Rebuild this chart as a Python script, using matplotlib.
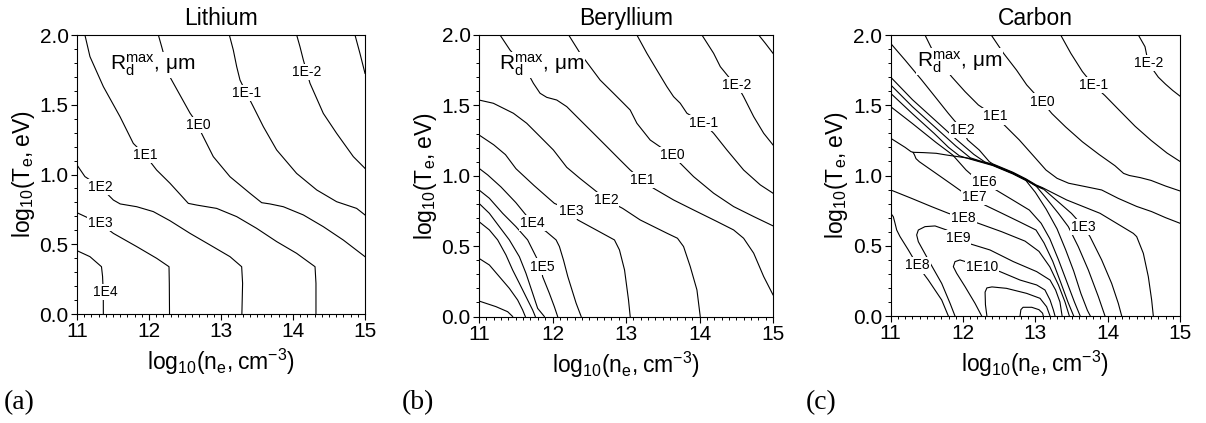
import matplotlib.pyplot as plt
from matplotlib.ticker import MultipleLocator, FormatStrFormatter

plt.rcParams['font.family'] = ['Liberation Sans', 'DejaVu Sans']
plt.rcParams['mathtext.default'] = 'regular'

# ---------------- Lithium (a) ----------------
li_tr_x = [14.861, 14.93, 15.0]
li_tr_y = [2.0, 1.868, 1.725]
li_m2_x = [14.051, 14.097, 14.144, 14.19, 14.236, 14.421, 14.606, 14.838, 15.0]
li_m2_y = [2.0, 1.916, 1.82, 1.737, 1.654, 1.438, 1.295, 1.128, 1.044]
li_m1_x = [13.116, 13.171, 13.218, 13.264, 13.356, 13.449, 13.588, 13.773, 14.05, 14.33, 14.606, 14.745, 14.884, 15.0]
li_m1_y = [2.0, 1.892, 1.773, 1.677, 1.58, 1.486, 1.343, 1.176, 1.008, 0.889, 0.805, 0.781, 0.757, 0.710]
li_p0_x = [12.13, 12.176, 12.29, 12.43, 12.57, 12.685, 12.73, 12.893, 13.125, 13.403, 13.565, 13.68, 13.866, 14.144, 14.421, 14.699, 15.0]
li_p0_y = [2.0, 1.916, 1.70, 1.57, 1.44, 1.355, 1.295, 1.128, 0.984, 0.865, 0.798, 0.789, 0.769, 0.710, 0.626, 0.530, 0.411]
li_p1_x = [11.11, 11.18, 11.366, 11.597, 11.782, 11.944, 12.106, 12.292, 12.546, 12.662, 12.94, 13.218, 13.495, 13.773, 14.05, 14.306, 14.319, 14.319]
li_p1_y = [2.0, 1.845, 1.63, 1.415, 1.223, 1.14, 1.032, 0.937, 0.793, 0.781, 0.757, 0.698, 0.614, 0.519, 0.435, 0.339, 0.22, 0.0]
li_p2_x = [11.0, 11.11, 11.32, 11.505, 11.6, 11.83, 12.06, 12.29, 12.57, 12.847, 13.125, 13.287, 13.30, 13.29]
li_p2_y = [1.068, 0.985, 0.913, 0.817, 0.789, 0.769, 0.734, 0.669, 0.578, 0.495, 0.411, 0.339, 0.22, 0.0]
li_p3_x = [11.0, 11.15, 11.32, 11.505, 11.83, 12.107, 12.278, 12.282, 12.285]
li_p3_y = [0.726, 0.69, 0.65, 0.578, 0.483, 0.399, 0.339, 0.22, 0.0]
li_p4_x = [11.0, 11.18, 11.34, 11.355, 11.365, 11.366]
li_p4_y = [0.454, 0.411, 0.339, 0.27, 0.15, 0.0]

li_lab = ['1E-2', '1E-1', '1E0', '1E1', '1E2', '1E3', '1E4']
li_lab_x = [14.19, 13.356, 12.685, 11.944, 11.319, 11.319, 11.389]
li_lab_y = [1.737, 1.582, 1.355, 1.140, 0.913, 0.650, 0.160]

# ---------------- Beryllium (b) ----------------
be_tr_x = [14.805, 14.896, 15.0]
be_tr_y = [2.0, 1.941, 1.870]
be_m2_x = [14.033, 14.192, 14.283, 14.40, 14.51, 14.6, 14.737, 14.873, 15.0]
be_m2_y = [2.0, 1.870, 1.775, 1.70, 1.645, 1.562, 1.420, 1.302, 1.219]
be_m1_x = [13.148, 13.284, 13.42, 13.556, 13.647, 13.738, 13.829, 14.056, 14.192, 14.373, 14.6, 14.827, 15.0]
be_m1_y = [2.0, 1.870, 1.751, 1.633, 1.562, 1.515, 1.444, 1.373, 1.302, 1.183, 1.041, 0.935, 0.876]
be_p0_x = [12.22, 12.376, 12.512, 12.648, 12.83, 12.966, 13.057, 13.148, 13.329, 13.624, 13.738, 13.919, 14.192, 14.464, 14.737, 15.0]
be_p0_y = [2.0, 1.870, 1.775, 1.680, 1.586, 1.515, 1.467, 1.373, 1.254, 1.148, 1.089, 0.994, 0.876, 0.781, 0.710, 0.644]
be_p1_x = [11.286, 11.422, 11.604, 11.74, 11.831, 11.922, 12.058, 12.194, 12.376, 12.557, 12.739, 12.92, 13.057, 13.216, 13.375, 13.647, 13.919, 14.237, 14.464, 14.6, 14.737, 14.873, 15.0]
be_p1_y = [2.0, 1.893, 1.787, 1.657, 1.586, 1.557, 1.538, 1.491, 1.396, 1.302, 1.207, 1.112, 1.041, 0.970, 0.911, 0.828, 0.757, 0.675, 0.615, 0.556, 0.450, 0.284, 0.154]
be_p2_x = [11.0, 11.195, 11.468, 11.649, 11.831, 12.012, 12.194, 12.376, 12.557, 12.739, 12.955, 13.193, 13.556, 13.70, 13.783, 13.874, 13.965, 14.01]
be_p2_y = [1.538, 1.515, 1.444, 1.373, 1.278, 1.183, 1.06, 0.98, 0.905, 0.828, 0.768, 0.686, 0.592, 0.556, 0.497, 0.355, 0.189, 0.0]
be_p3_x = [11.0, 11.2, 11.36, 11.503, 11.75, 12.025, 12.252, 12.344, 12.594, 12.843, 12.911, 12.98, 13.034, 13.057]
be_p3_y = [1.29, 1.22, 1.15, 1.05, 0.93, 0.804, 0.752, 0.686, 0.615, 0.544, 0.473, 0.331, 0.118, 0.0]
be_p4_x = [11.0, 11.118, 11.30, 11.50, 11.639, 11.731, 11.913, 12.049, 12.094, 12.15, 12.208, 12.321, 12.39]
be_p4_y = [1.053, 1.006, 0.92, 0.81, 0.721, 0.663, 0.604, 0.544, 0.497, 0.40, 0.284, 0.095, 0.0]
be_p5_x = [11.0, 11.141, 11.322, 11.503, 11.662, 11.753, 11.844, 11.866, 11.957, 12.025, 12.07]
be_p5_y = [0.899, 0.840, 0.733, 0.638, 0.544, 0.449, 0.354, 0.283, 0.165, 0.070, 0.0]
be_p6_x = [11.0, 11.141, 11.277, 11.413, 11.549, 11.639, 11.730, 11.798, 11.889]
be_p6_y = [0.804, 0.733, 0.638, 0.544, 0.425, 0.307, 0.165, 0.058, 0.0]
be_p7_x = [11.0, 11.141, 11.254, 11.367, 11.458, 11.549, 11.662, 11.730, 11.766]
be_p7_y = [0.674, 0.615, 0.544, 0.437, 0.330, 0.236, 0.117, 0.046, 0.0]
be_p8_x = [11.0, 11.141, 11.277, 11.413, 11.526, 11.594, 11.630]
be_p8_y = [0.413, 0.366, 0.283, 0.200, 0.117, 0.046, 0.0]
be_p9_x = [11.0, 11.231, 11.39, 11.458]
be_p9_y = [0.110, 0.070, 0.034, 0.0]

be_lab = ['1E-2', '1E-1', '1E0', '1E1', '1E2', '1E3', '1E4', '1E5']
be_lab_x = [14.51, 14.056, 13.624, 13.22, 12.728, 12.25, 11.73, 11.858]
be_lab_y = [1.645, 1.373, 1.148, 0.970, 0.828, 0.753, 0.663, 0.355]

# ---------------- Carbon (c) ----------------
c_m2_x = [14.424, 14.516, 14.562, 14.70, 14.80, 14.90, 15.0]
c_m2_y = [2.0, 1.917, 1.80, 1.70, 1.65, 1.605, 1.565]
c_m1_x = [13.35, 13.49, 13.65, 13.80, 13.96, 14.15, 14.38, 14.6, 14.82, 15.0]
c_m1_y = [2.0, 1.87, 1.74, 1.645, 1.57, 1.47, 1.35, 1.25, 1.16, 1.10]
c_p0_x = [12.39, 12.56, 12.74, 12.88, 13.09, 13.23, 13.42, 13.65, 13.88, 14.1, 14.22, 14.3, 14.45, 14.6, 14.8, 15.0]
c_p0_y = [2.0, 1.87, 1.75, 1.645, 1.526, 1.44, 1.345, 1.24, 1.15, 1.07, 1.015, 1.0, 0.985, 0.965, 0.925, 0.89]
c_p1_x = [11.474, 11.56, 11.66, 11.843, 12.028, 12.212, 12.45, 12.571, 12.778, 12.963, 13.147, 13.3, 13.46, 13.7, 13.917, 14.147, 14.4, 14.608, 14.8, 15.0]
c_p1_y = [2.0, 1.91, 1.822, 1.703, 1.597, 1.502, 1.42, 1.359, 1.253, 1.146, 1.039, 0.98, 0.945, 0.92, 0.897, 0.837, 0.78, 0.743, 0.70, 0.66]
c_p2_x = [11.0, 11.198, 11.428, 11.613, 11.797, 11.99, 12.064, 12.225, 12.364, 12.41, 12.69, 12.87, 13.01, 13.1, 13.433, 13.894, 14.355, 14.401, 14.493, 14.562, 14.608, 14.631]
c_p2_y = [1.94, 1.822, 1.68, 1.561, 1.442, 1.324, 1.253, 1.181, 1.098, 1.083, 1.023, 0.976, 0.933, 0.913, 0.826, 0.731, 0.588, 0.565, 0.446, 0.28, 0.114, 0.0]
c_p3_x = [11.0, 11.3, 11.6, 11.9, 12.15, 12.3, 12.41, 12.69, 12.87, 13.01, 13.1, 13.3, 13.5, 13.664, 13.756, 13.917, 14.055, 14.147, 14.194]
c_p3_y = [1.70, 1.54, 1.40, 1.26, 1.15, 1.097, 1.079, 1.019, 0.972, 0.929, 0.909, 0.82, 0.73, 0.636, 0.565, 0.399, 0.232, 0.09, 0.0]
c_p4_x = [11.0, 11.3, 11.6, 11.9, 12.1, 12.41, 12.69, 12.87, 13.01, 13.133, 13.318, 13.456, 13.594, 13.733, 13.871, 13.963]
c_p4_y = [1.645, 1.49, 1.35, 1.21, 1.126, 1.075, 1.015, 0.968, 0.925, 0.849, 0.731, 0.636, 0.493, 0.327, 0.138, 0.0]
c_p5_x = [11.0, 11.3, 11.6, 11.8, 11.95, 12.09, 12.41, 12.69, 12.87, 13.0, 13.15, 13.3, 13.42, 13.53, 13.63, 13.72, 13.76]
c_p5_y = [1.585, 1.44, 1.30, 1.20, 1.14, 1.118, 1.071, 1.011, 0.964, 0.88, 0.76, 0.62, 0.47, 0.32, 0.16, 0.04, 0.0]
c_edge_x = [11.31, 11.45, 11.63, 11.77, 12.09, 12.41, 12.69, 12.87, 13.01, 13.1]
c_edge_y = [1.165, 1.163, 1.158, 1.146, 1.122, 1.075, 1.015, 0.968, 0.925, 0.905]
c_p6_x = [11.0, 11.3, 11.627, 11.857, 12.042, 12.15, 12.29, 12.456, 12.686, 12.917, 13.08, 13.2, 13.32, 13.43, 13.54, 13.62]
c_p6_y = [1.49, 1.37, 1.235, 1.146, 1.039, 0.99, 0.956, 0.897, 0.826, 0.754, 0.66, 0.55, 0.40, 0.25, 0.1, 0.0]
c_p7_x = [11.0, 11.2, 11.28, 11.31, 11.33, 11.35, 11.396, 11.627, 11.857, 12.018, 12.16, 12.30, 12.502, 12.778, 13.009, 13.12, 13.24, 13.35, 13.45, 13.53]
c_p7_y = [1.265, 1.20, 1.17, 1.165, 1.145, 1.12, 1.098, 1.015, 0.932, 0.873, 0.845, 0.79, 0.74, 0.671, 0.612, 0.52, 0.39, 0.24, 0.1, 0.0]
c_p8_x = [11.0, 11.29, 11.567, 11.797, 12.01, 12.211, 12.534, 12.857, 13.05, 13.2, 13.32, 13.41, 13.47]
c_p8_y = [0.897, 0.837, 0.778, 0.731, 0.695, 0.66, 0.6, 0.533, 0.46, 0.35, 0.22, 0.1, 0.0]
c_p8b_x = [11.0, 11.036, 11.06, 11.083, 11.129, 11.244, 11.37, 11.52, 11.705, 11.797]
c_p8b_y = [0.731, 0.707, 0.66, 0.612, 0.565, 0.47, 0.36, 0.256, 0.114, 0.0]
c_p9_x = [11.889, 11.821, 11.705, 11.521, 11.382, 11.359, 11.382, 11.474, 11.613, 11.774, 11.936, 12.0, 12.373, 12.696, 13.018, 13.203, 13.28, 13.34, 13.37]
c_p9_y = [0.0, 0.09, 0.232, 0.399, 0.529, 0.577, 0.612, 0.636, 0.641, 0.612, 0.553, 0.529, 0.47, 0.387, 0.316, 0.256, 0.185, 0.1, 0.0]
c_p10_x = [12.258, 12.166, 12.028, 11.912, 11.866, 11.889, 11.958, 12.258, 12.511, 12.788, 13.018, 13.133, 13.203, 13.249, 13.272]
c_p10_y = [0.0, 0.09, 0.209, 0.304, 0.351, 0.387, 0.399, 0.351, 0.316, 0.256, 0.221, 0.185, 0.114, 0.043, 0.0]
c_p11_x = [12.33, 12.31, 12.305, 12.33, 12.40, 12.6, 12.88, 13.064, 13.156, 13.203]
c_p11_y = [0.0, 0.08, 0.17, 0.2, 0.207, 0.197, 0.161, 0.126, 0.066, 0.0]
c_p12_x = [12.788, 12.80, 12.83, 12.95, 13.05, 13.1, 13.11]
c_p12_y = [0.0, 0.045, 0.062, 0.062, 0.045, 0.02, 0.0]

c_lab = ['1E-2', '1E-1', '1E0', '1E1', '1E2', '1E6', '1E7', '1E8', '1E9', '1E10', '1E3', '1E8']
c_lab_x = [14.562, 13.80, 13.09, 12.45, 11.99, 12.29, 12.16, 12.01, 11.93, 12.26, 13.664, 11.37]
c_lab_y = [1.80, 1.645, 1.526, 1.42, 1.324, 0.956, 0.849, 0.695, 0.553, 0.351, 0.636, 0.36]

titles = ['Lithium', 'Beryllium', 'Carbon']
letters = ['(a)', '(b)', '(c)']

panels = [
    ([(li_tr_x, li_tr_y), (li_m2_x, li_m2_y), (li_m1_x, li_m1_y), (li_p0_x, li_p0_y),
      (li_p1_x, li_p1_y), (li_p2_x, li_p2_y), (li_p3_x, li_p3_y), (li_p4_x, li_p4_y)],
     li_lab, li_lab_x, li_lab_y, 11.46, 1.749),
    ([(be_tr_x, be_tr_y), (be_m2_x, be_m2_y), (be_m1_x, be_m1_y), (be_p0_x, be_p0_y),
      (be_p1_x, be_p1_y), (be_p2_x, be_p2_y), (be_p3_x, be_p3_y), (be_p4_x, be_p4_y),
      (be_p5_x, be_p5_y), (be_p6_x, be_p6_y), (be_p7_x, be_p7_y), (be_p8_x, be_p8_y),
      (be_p9_x, be_p9_y)],
     be_lab, be_lab_x, be_lab_y, 11.27, 1.751),
    ([(c_m2_x, c_m2_y), (c_m1_x, c_m1_y), (c_p0_x, c_p0_y), (c_p1_x, c_p1_y),
      (c_p2_x, c_p2_y), (c_p3_x, c_p3_y), (c_p4_x, c_p4_y), (c_p5_x, c_p5_y),
      (c_edge_x, c_edge_y), (c_p6_x, c_p6_y), (c_p7_x, c_p7_y), (c_p8_x, c_p8_y),
      (c_p8b_x, c_p8b_y), (c_p9_x, c_p9_y), (c_p10_x, c_p10_y), (c_p11_x, c_p11_y),
      (c_p12_x, c_p12_y)],
     c_lab, c_lab_x, c_lab_y, 11.36, 1.774),
]

# axes boxes in pixels: left, right, top, bottom
W, H = 1206, 423
boxes = [(77, 365, 35, 314), (479, 773, 35, 316.5), (890.7, 1180, 35, 316)]
letter_x = [4, 402, 806]

fig = plt.figure(figsize=(W / 100, H / 100), dpi=100)

for i, (lines, lab, lx, ly, rx, ry) in enumerate(panels):
    l, r, t, b = boxes[i]
    ax = fig.add_axes([l / W, 1 - b / H, (r - l) / W, (b - t) / H])
    for xs, ys in lines:
        ax.plot(xs, ys, color='black', lw=0.8, solid_joinstyle='round')
    for s, x, y in zip(lab, lx, ly):
        ax.text(x, y, s, fontsize=10, ha='center', va='center', zorder=5,
                bbox=dict(boxstyle='square,pad=0.08', fc='white', ec='none'))
    ax.text(rx, ry, r'$R_d^{max}$, μm', fontsize=15, ha='left', va='baseline', zorder=6,
            bbox=dict(boxstyle='square,pad=0.03', fc='white', ec='none'))
    ax.set_xlim(11, 15)
    ax.set_ylim(0, 2)
    ax.xaxis.set_major_locator(MultipleLocator(1))
    ax.xaxis.set_minor_locator(MultipleLocator(0.1))
    ax.yaxis.set_major_locator(MultipleLocator(0.5))
    ax.yaxis.set_minor_locator(MultipleLocator(0.1))
    ax.yaxis.set_major_formatter(FormatStrFormatter('%.1f'))
    ax.tick_params(which='major', direction='out', length=4, width=0.8, labelsize=15, pad=2)
    ax.tick_params(which='minor', direction='out', length=2.2, width=0.7)
    for sp in ax.spines.values():
        sp.set_linewidth(0.8)
    ax.set_title(titles[i], fontsize=16.5, pad=7)
    ax.set_xlabel(r'$log_{10}(n_e, cm^{-3})$', fontsize=16.5, labelpad=4)
    ax.set_ylabel(r'$log_{10}(T_e, eV)$', fontsize=16.5, labelpad=2)
    fig.text(letter_x[i] / W, 1 - 403 / H, letters[i], family='Liberation Serif',
             fontsize=20, ha='left', va='center')

fig.savefig('out.png', dpi=100)
